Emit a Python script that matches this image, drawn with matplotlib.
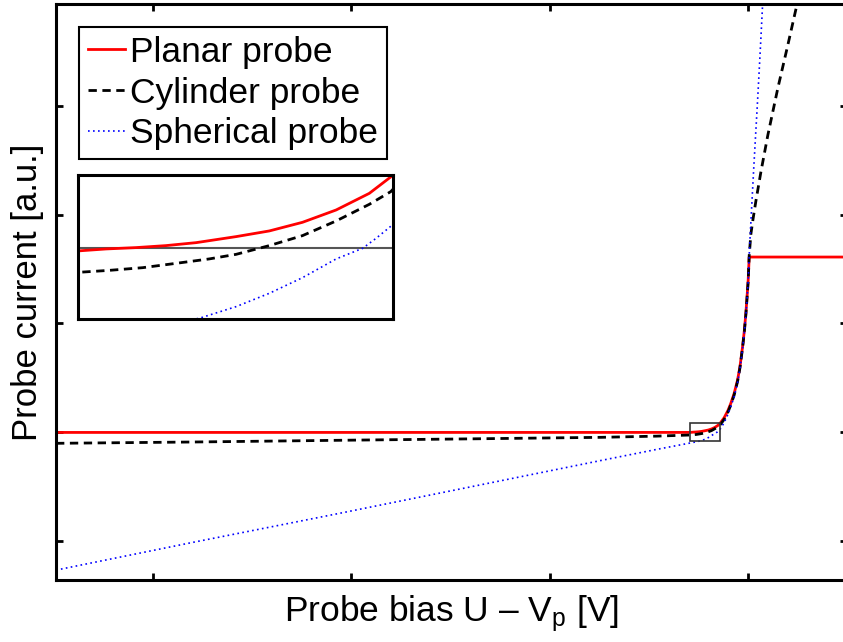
import matplotlib
matplotlib.use('Agg')
import matplotlib.pyplot as plt
from matplotlib.patches import Rectangle

plt.rcParams['font.family'] = ['Liberation Sans', 'DejaVu Sans']
plt.rcParams['mathtext.fontset'] = 'custom'
plt.rcParams['mathtext.rm'] = 'Liberation Sans'
plt.rcParams['mathtext.it'] = 'Liberation Sans'

# Probe bias (V) and current (a.u.).
planar_v = [-17.45, -1.45, -1.383, -1.312, -1.241, -1.169, -1.074, -0.995, -0.916, -0.836,
            -0.757, -0.70, -0.60, -0.50, -0.43, -0.35, -0.26, -0.20, -0.134, -0.09, -0.05,
            -0.02, 0.008, 0.033, 2.6]
planar_i = [-0.004, -0.0037, -0.0015, 0.0, 0.0022, 0.0055, 0.0122, 0.0185, 0.0281, 0.0418,
            0.0603, 0.0807, 0.13, 0.20, 0.264, 0.35, 0.478, 0.60, 0.784, 0.93, 1.094,
            1.25, 1.398, 1.609, 1.609]

cyl_v = [-17.45, -14, -10.26, -7, -3.706, -2.3, -1.45, -1.376, -1.296, -1.217, -1.138,
         -1.074, -0.995, -0.916, -0.836, -0.757, -0.706, -0.60, -0.50, -0.43, -0.35, -0.26,
         -0.20, -0.134, -0.09, -0.05, -0.02, 0.008, 0.033, 0.076, 0.126, 0.202, 0.328,
         0.504, 0.756, 1.008, 1.235, 1.40]
cyl_i = [-0.104, -0.092, -0.076, -0.063, -0.049, -0.038, -0.0275, -0.0253, -0.0223, -0.0175,
         -0.0126, -0.0075, 0.0022, 0.0133, 0.0296, 0.0481, 0.0622, 0.115, 0.185, 0.25,
         0.335, 0.465, 0.59, 0.775, 0.92, 1.085, 1.24, 1.39, 1.62, 1.821, 1.949, 2.124,
         2.391, 2.731, 3.163, 3.559, 3.926, 4.17]

sph_v = [-17.45, -14, -10.26, -7, -3.706, -2.3, -1.437, -1.3, -1.162, -1.074, -0.995,
         -0.916, -0.836, -0.773, -0.741, -0.702, -0.60, -0.50, -0.43, -0.35, -0.26, -0.20,
         -0.134, -0.09, -0.05, -0.02, 0.008, 0.033, 0.06, 0.093, 0.144, 0.184, 0.245, 0.285,
         0.328, 0.371, 0.40]
sph_i = [-1.27, -1.015, -0.745, -0.505, -0.262, -0.16, -0.100, -0.09, -0.0786, -0.0656,
         -0.0508, -0.0334, -0.0126, -0.0008, 0.0103, 0.0252, 0.085, 0.165, 0.235, 0.32,
         0.45, 0.58, 0.765, 0.91, 1.075, 1.23, 1.385, 1.62, 1.82, 2.05, 2.40, 2.66, 3.05,
         3.32, 3.62, 3.93, 4.13]

labels = ['Planar probe', 'Cylinder probe', 'Spherical probe']
x_ticks = [-15, -10, -5, 0]
y_ticks = [-1, 0, 1, 2, 3]
zoom_x = [-1.45, -0.70]
zoom_y = [-0.079, 0.081]

styles = [dict(color='red', lw=2, ls='-'),
          dict(color='black', lw=2, ls=(0, (3, 2))),
          dict(color='blue', lw=1.2, ls=(0, (1, 2)))]
series = [(planar_v, planar_i), (cyl_v, cyl_i), (sph_v, sph_i)]

fig = plt.figure(figsize=(8.43, 6.42), dpi=100)
ax = fig.add_axes([56/843, 62/642, 791/843, 576/642])

for (v, i), lab, st in zip(series, labels, styles):
    ax.plot(v, i, label=lab, **st)

ax.add_patch(Rectangle((zoom_x[0], zoom_y[0]), zoom_x[1]-zoom_x[0], zoom_y[1]-zoom_y[0],
                       fill=False, edgecolor='#333333', lw=1.2, zorder=5))

ax.set_xlim(-17.45, 2.5)
ax.set_ylim(-1.361, 3.936)
ax.set_xticks(x_ticks)
ax.set_yticks(y_ticks)
ax.set_xticklabels([])
ax.set_yticklabels([])
ax.tick_params(direction='in', length=5, width=2, top=True, right=True)
for sp in ax.spines.values():
    sp.set_linewidth(2.2)

ax.set_xlabel(r'Probe bias U – $\mathrm{V_p}$ [V]', fontsize=25.5, labelpad=6)
ax.set_ylabel('Probe current [a.u.]', fontsize=25, labelpad=5)

leg = ax.legend(loc='upper left', bbox_to_anchor=(0.029, 0.960), borderaxespad=0,
                fontsize=25.5, handlelength=1.05, handletextpad=0.15, labelspacing=0.22,
                borderpad=0.25, fancybox=False, framealpha=1, edgecolor='black')
leg.get_frame().set_linewidth(1.5)

# zoomed view of the knee
ins = fig.add_axes([78/843, 323.3/642, 315.3/843, 144/642])
ins.axhline(0, color='#555555', lw=1.5)
for (v, i), st in zip(series, styles):
    ins.plot(v, i, **st)
ins.set_xlim(zoom_x)
ins.set_ylim(zoom_y)
ins.set_xticks([])
ins.set_yticks([])
for sp in ins.spines.values():
    sp.set_linewidth(2.2)

fig.savefig('out.png', dpi=100)
